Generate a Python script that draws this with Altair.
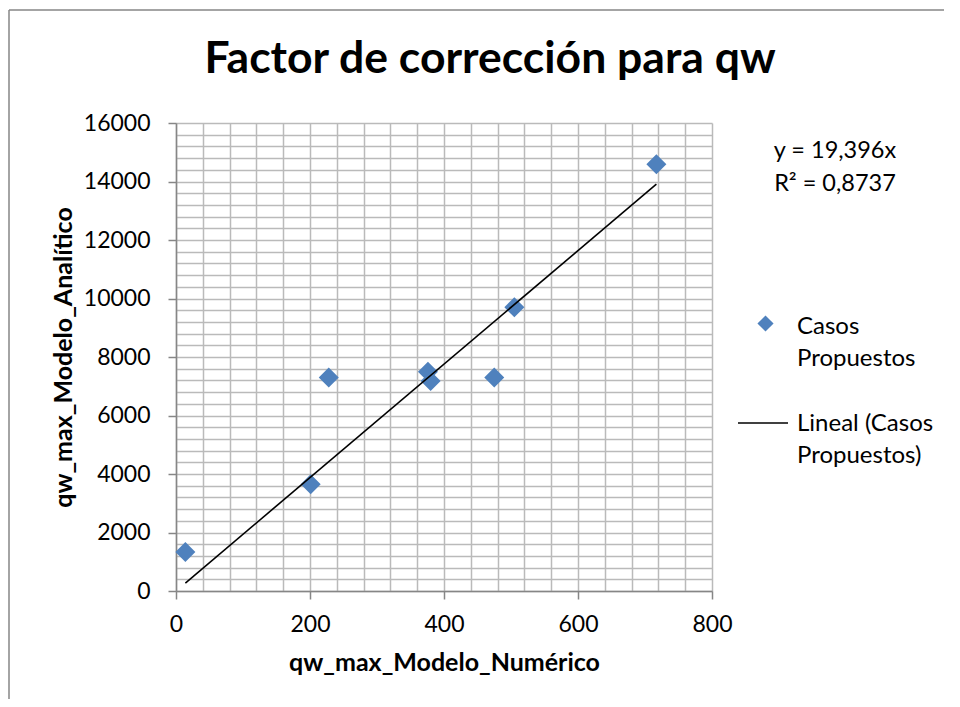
import altair as alt
import pandas as pd

# ---- data ----
title_text = "Factor de corrección para qw"
x_title = "qw_max_Modelo_Numérico"
y_title = "qw_max_Modelo_Analítico"
series_name = "Casos Propuestos"
trend_name = "Lineal (Casos Propuestos)"
series_lines = ["Casos", "Propuestos"]
trend_lines = ["Lineal (Casos", "Propuestos)"]
equation_lines = ["y = 19,396x", "R² = 0,8737"]
slope = 19.396

qw_numerico = [14, 201, 228, 376, 380, 475, 505, 717]
qw_analitico = [1330, 3650, 7300, 7500, 7180, 7300, 9700, 14590]

x_ticks = list(range(0, 801, 40))
y_ticks = list(range(0, 16001, 400))

FONT = "Lato"
BLUE = "#4f81bd"
GRAY = "#868686"

points_df = pd.DataFrame({"x": qw_numerico, "y": qw_analitico, "serie": series_name})
trend_df = pd.DataFrame({"x": [min(qw_numerico), max(qw_numerico)], "serie": trend_name})
one = pd.DataFrame({"t": [title_text]})

x_scale = alt.Scale(domain=[0, 800], nice=False, zero=True)
y_scale = alt.Scale(domain=[0, 16000], nice=False, zero=True)

x_axis = alt.Axis(
    values=x_ticks, title=x_title, format="d",
    labelExpr="datum.value % 200 === 0 ? datum.label : ''",
    tickOpacity={"condition": {"test": "datum.value % 200 === 0", "value": 1}, "value": 0},
    labelFlush=False, labelOverlap=False, labelPadding=14,
    titleY=71, titleBaseline="middle",
)
y_axis = alt.Axis(
    values=y_ticks, title=y_title, format="d",
    labelExpr="datum.value % 2000 === 0 ? datum.label : ''",
    tickOpacity={"condition": {"test": "datum.value % 2000 === 0", "value": 1}, "value": 0},
    labelFlush=False, labelOverlap=False, labelPadding=18,
    titleX=-113, titleY=234, titleBaseline="middle",
)

legend_common = dict(
    orient="none", titleOrient="right", titleAnchor="start", titleBaseline="top",
    titleFont=FONT, titleFontSize=24, titleFontWeight="normal", titleColor="black",
    titleLineHeight=32, titleLimit=300, labelExpr="''", labelOffset=0,
)

frame_left = alt.Chart(one).mark_rule(stroke=GRAY, strokeWidth=1.5).encode(
    x=alt.value(-167), y=alt.value(-113), y2=alt.value(576)
)
frame_top = alt.Chart(one).mark_rule(stroke=GRAY, strokeWidth=1.5).encode(
    x=alt.value(-167), x2=alt.value(768), y=alt.value(-113)
)

points = alt.Chart(points_df).mark_point(shape="diamond", filled=True, size=400, opacity=1).encode(
    x=alt.X("x:Q", scale=x_scale, axis=x_axis),
    y=alt.Y("y:Q", scale=y_scale, axis=y_axis),
    color=alt.Color(
        "serie:N",
        scale=alt.Scale(domain=[series_name], range=[BLUE]),
        legend=alt.Legend(
            title=series_lines, legendX=581, legendY=192,
            symbolType="diamond", symbolSize=260, symbolStrokeWidth=0,
            titlePadding=23, **legend_common,
        ),
    ),
)

trend = alt.Chart(trend_df).transform_calculate(
    y=f"{slope} * datum.x"
).mark_line(strokeWidth=1.6).encode(
    x=alt.X("x:Q", scale=x_scale, axis=x_axis),
    y=alt.Y("y:Q", scale=y_scale, axis=y_axis),
    color=alt.Color(
        "serie:N",
        scale=alt.Scale(domain=[trend_name], range=["black"]),
        legend=alt.Legend(
            title=trend_lines, legendX=576, legendY=289,
            symbolType="M-2.5,0H2.5", symbolSize=400, symbolStrokeWidth=1.6,
            titlePadding=6, **legend_common,
        ),
    ),
)

title_mark = alt.Chart(one).mark_text(
    font=FONT, fontSize=44.5, fontWeight="bold", align="center", baseline="middle", color="black"
).encode(x=alt.value(314), y=alt.value(-63), text="t:N")

eq_df = pd.DataFrame({"t": ["\n".join(equation_lines)]})
eq_mark = alt.Chart(eq_df).mark_text(
    font=FONT, fontSize=23.5, align="center", baseline="middle", lineBreak="\n", lineHeight=33, color="black"
).encode(x=alt.value(659), y=alt.value(28), text="t:N")

chart = alt.layer(frame_left, frame_top, points, trend, title_mark, eq_mark).resolve_scale(
    color="independent"
).properties(
    width=536, height=468,
    autosize=alt.AutoSizeParams(type="none"),
    padding={"left": 168, "top": 115, "right": 240, "bottom": 108},
).configure_view(stroke=None).configure_axis(
    labelFont=FONT, labelFontSize=23, labelColor="black",
    titleFont=FONT, titleFontSize=25, titleFontWeight="bold", titleColor="black",
    grid=True, gridColor="#bababa", gridWidth=1.5,
    domainColor=GRAY, domainWidth=1.5, tickColor=GRAY, tickWidth=1.5, tickSize=8,
)

chart.save("out.html", embed_options={"renderer": "svg", "actions": False})
